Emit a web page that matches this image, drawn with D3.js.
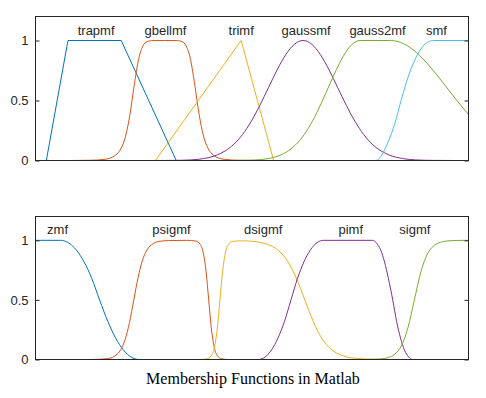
<!DOCTYPE html>
<html>
<head>
<meta charset="utf-8">
<script src="https://cdn.jsdelivr.net/npm/d3@7"></script>
<style>
  body { margin: 0; background: #fff; }
  text { font-family: "Liberation Sans", Arial, sans-serif; fill: #262626; }
  .title { font-family: "Liberation Serif", "Times New Roman", serif; fill: #000; }
</style>
</head>
<body>
<div id="chart"></div>
<script>
// values, x from 0 to 10, membership from 0 to 1
const topNames = ["trapmf", "gbellmf", "trimf", "gaussmf", "gauss2mf", "smf"]
const topLabelX = [1.4, 3.0, 4.75, 6.25, 7.9, 9.26]

const trapmf = [[0, 0], [0.25, 0], [0.75, 1], [1.98, 1], [3.25, 0], [10, 0]]
const gbellmf = [[0, 0], [0.78, 0], [1.28, 0.002], [1.58, 0.009], [1.78, 0.029], [1.88, 0.054], [1.98, 0.104],
  [2.08, 0.203], [2.18, 0.381], [2.28, 0.626], [2.38, 0.842], [2.48, 0.954], [2.58, 0.991], [2.68, 0.999], [2.98, 1],
  [3.28, 0.999], [3.38, 0.991], [3.48, 0.954], [3.58, 0.842], [3.68, 0.626], [3.78, 0.381], [3.88, 0.203],
  [3.98, 0.104], [4.08, 0.054], [4.18, 0.029], [4.38, 0.009], [4.68, 0.002], [5.18, 0], [10, 0]]
const trimf = [[0, 0], [2.77, 0], [4.75, 1], [5.5, 0], [10, 0]]
const gaussmf = [[0, 0], [2.68, 0], [3.18, 0.001], [3.58, 0.005], [3.88, 0.016], [4.18, 0.044], [4.38, 0.08],
  [4.58, 0.135], [4.78, 0.216], [4.98, 0.325], [5.18, 0.458], [5.38, 0.607], [5.58, 0.755], [5.78, 0.882],
  [5.98, 0.969], [6.18, 1], [6.38, 0.969], [6.58, 0.882], [6.78, 0.755], [6.98, 0.607], [7.18, 0.458],
  [7.38, 0.325], [7.58, 0.216], [7.78, 0.135], [7.98, 0.08], [8.18, 0.044], [8.48, 0.016], [8.78, 0.005],
  [9.18, 0.001], [9.68, 0], [10, 0]]
const gauss2mf = [[0, 0], [4.5, 0], [4.9, 0.002], [5.2, 0.008], [5.5, 0.026], [5.7, 0.052], [5.9, 0.097],
  [6.1, 0.167], [6.3, 0.268], [6.5, 0.401], [6.7, 0.557], [6.9, 0.72], [7.1, 0.864], [7.3, 0.964], [7.5, 1],
  [8.2, 1], [8.5, 0.974], [8.8, 0.899], [9.1, 0.787], [9.4, 0.653], [9.7, 0.514], [10, 0.383]]
const smf = [[0, 0], [7.85, 0], [7.95, 0.02], [8.05, 0.08], [8.15, 0.16], [8.3, 0.31], [8.45, 0.51], [8.6, 0.69],
  [8.75, 0.83], [8.9, 0.93], [9.05, 0.985], [9.2, 1], [10, 1]]

const bottomNames = ["zmf", "psigmf", "dsigmf", "pimf", "sigmf"]
const bottomLabelX = [0.51, 3.14, 5.26, 7.28, 8.76]

const zmf = [[0, 1], [0.58, 1], [0.76, 0.98], [0.94, 0.92], [1.12, 0.82], [1.3, 0.68], [1.48, 0.5], [1.67, 0.32],
  [1.85, 0.18], [2.03, 0.08], [2.21, 0.02], [2.39, 0], [10, 0]]
const psigmf = [[0, 0], [1.3, 0], [1.67, 0.008], [1.82, 0.027], [1.97, 0.083], [2.07, 0.168], [2.17, 0.31],
  [2.27, 0.5], [2.37, 0.69], [2.47, 0.832], [2.57, 0.917], [2.72, 0.973], [2.87, 0.992], [3.07, 0.998], [3.5, 1],
  [3.7, 0.994], [3.8, 0.968], [3.88, 0.885], [3.94, 0.735], [4.0, 0.5], [4.06, 0.265], [4.12, 0.115],
  [4.2, 0.032], [4.3, 0.006], [4.45, 0], [10, 0]]
const dsigmf = [[0, 0], [3.81, 0], [3.96, 0.006], [4.06, 0.032], [4.14, 0.115], [4.2, 0.265], [4.26, 0.5],
  [4.32, 0.735], [4.38, 0.885], [4.46, 0.968], [4.56, 0.992], [4.8, 0.996], [5.02, 0.991], [5.32, 0.971],
  [5.62, 0.912], [5.82, 0.826], [6.02, 0.686], [6.22, 0.5], [6.42, 0.314], [6.62, 0.174], [6.82, 0.088],
  [7.12, 0.029], [7.42, 0.009], [7.82, 0.002], [8.22, 0], [10, 0]]
const pimf = [[0, 0], [5.15, 0], [5.3, 0.02], [5.45, 0.08], [5.6, 0.18], [5.75, 0.32], [5.9, 0.5], [6.05, 0.68],
  [6.2, 0.82], [6.35, 0.92], [6.5, 0.98], [6.65, 1], [7.78, 1], [7.87, 0.98], [7.97, 0.92], [8.06, 0.82],
  [8.15, 0.68], [8.25, 0.5], [8.34, 0.32], [8.43, 0.18], [8.52, 0.08], [8.62, 0.02], [8.71, 0], [10, 0]]
const sigmf = [[0, 0], [7.5, 0], [7.75, 0.001], [7.95, 0.004], [8.15, 0.017], [8.3, 0.045], [8.45, 0.115],
  [8.6, 0.265], [8.75, 0.5], [8.9, 0.735], [9.05, 0.885], [9.2, 0.955], [9.35, 0.983], [9.55, 0.996],
  [9.75, 0.999], [10, 1]]

const yTicks = [0, 0.5, 1]
const titleText = "Membership Functions in Matlab"

const colors = ["#0072BD", "#D95319", "#EDB120", "#7E2F8E", "#77AC30", "#4DBEEE"]

const width = 486
const height = 398

const svg = d3.select("div#chart")
    .append("svg")
    .attr("width", width)
    .attr("height", height)

const x = d3.scaleLinear().domain([0, 10]).range([35.5, 468.5])

function drawPanel(series, names, labelX, yRange, straight) {
    const y = d3.scaleLinear().domain([0, 1.2]).range(yRange)
    const g = svg.append("g")

    // lineas
    series.forEach((s, i) => {
        const line = d3.line()
            .x(d => x(d[0]))
            .y(d => y(d[1]))
            .curve(straight.includes(i) ? d3.curveLinear : d3.curveMonotoneX)
        g.append("path")
            .datum(s)
            .attr("d", line)
            .attr("fill", "none")
            .attr("stroke", colors[i])
            .attr("stroke-width", 1)
    })

    // nombres de cada funcion
    g.selectAll("text.name").data(names)
        .join("text")
        .attr("class", "name")
        .attr("x", (d, i) => x(labelX[i]))
        .attr("y", y(1.05))
        .attr("text-anchor", "middle")
        .style("font-size", "13px")
        .text(d => d)

    // ejes izquierdo y derecho con ticks hacia dentro
    const left = g.append("g")
        .attr("transform", `translate(${x.range()[0]},0)`)
        .call(d3.axisLeft(y).tickValues(yTicks).tickSize(-4).tickPadding(7).tickFormat(d3.format("")))
    const right = g.append("g")
        .attr("transform", `translate(${x.range()[1]},0)`)
        .call(d3.axisRight(y).tickValues(yTicks).tickSize(-4).tickFormat(""))
    for (const a of [left, right]) {
        a.select(".domain").remove()
        a.selectAll("line").attr("stroke", "#262626")
        a.selectAll("text").style("font-size", "13px").attr("fill", "#262626")
            .style("font-family", "'Liberation Sans', Arial, sans-serif")
    }

    g.append("rect")
        .attr("x", x.range()[0])
        .attr("y", yRange[1])
        .attr("width", x.range()[1] - x.range()[0])
        .attr("height", yRange[0] - yRange[1])
        .attr("fill", "none")
        .attr("stroke", "#262626")
        .attr("stroke-width", 1)
}

drawPanel([trapmf, gbellmf, trimf, gaussmf, gauss2mf, smf], topNames, topLabelX, [160.5, 16.5], [0, 2])
drawPanel([zmf, psigmf, dsigmf, pimf, sigmf], bottomNames, bottomLabelX, [359.5, 216.5], [])

svg.append("text")
    .attr("class", "title")
    .attr("x", 253)
    .attr("y", 384)
    .attr("text-anchor", "middle")
    .style("font-size", "16px")
    .text(titleText)
</script>
</body>
</html>
